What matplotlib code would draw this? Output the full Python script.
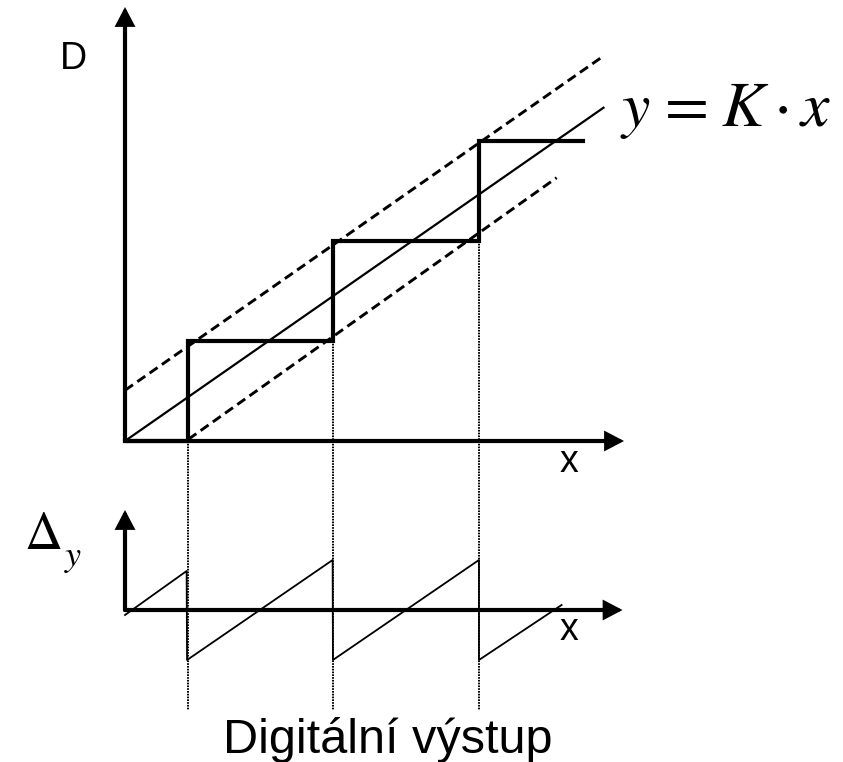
import matplotlib
matplotlib.use("Agg")
import matplotlib.pyplot as plt

plt.rcParams['lines.scale_dashes'] = False
plt.rcParams['mathtext.fontset'] = 'stix'

W, H = 843, 762
DPI = 100

# ---- data (diagram units: x step = 1 quantum, y step = 1 level) ----
step_x = [0.0, 0.434, 1.434, 2.441, 3.157]
step_y = [0, 1, 2, 3, 3]

line_x = [0.0, 3.30]
K = 1.01

upper_x = [0.0, 3.30]
upper_y = [0.507, 3.85]
lower_x = [0.437, 2.977]
lower_y = [0.017, 2.633]

thresholds = [0.434, 1.434, 2.441]
threshold_levels = [0, 1, 2]

saw_x = [0.0, 0.425, 0.428, 1.432, 1.434, 2.441, 2.441, 3.011]
saw_y = [-0.05, 0.39, -0.5, 0.5, -0.5, 0.5, -0.5, 0.05]

label_D = "D"
label_x = "x"
label_eq = r"$y\hspace{0.12}=\hspace{0.08}K\cdot x$"
label_delta = r"$\Delta$"
label_delta_sub = r"$y$"
label_bottom = "Digitální výstup"

# ---- layout (pixels) ----
ox, oy = 125, 441          # origin of upper diagram
ux, uy = 145, 100          # pixels per unit
top_tip = 7
right_tip = 624
oy2 = 610                  # origin of lower diagram
top_tip2 = 510
dot_bottom = 710

fig = plt.figure(figsize=(W / DPI, H / DPI), dpi=DPI)

def fx(px):
    return px / W

def fy(py):
    return (H - py) / H

# upper axes
x_max = (right_tip - ox) / ux
y_max = (oy - top_tip) / uy
ax = fig.add_axes([fx(ox), fy(oy), fx(right_tip) - fx(ox), fy(top_tip) - fy(oy)])
ax.set_xlim(0, x_max)
ax.set_ylim(0, y_max)
ax.axis('off')

# lower axes
y2_top = (oy2 - top_tip2) / uy
y2_bot = (oy2 - dot_bottom) / uy
ax2 = fig.add_axes([fx(ox), fy(dot_bottom), fx(right_tip) - fx(ox), fy(top_tip2) - fy(dot_bottom)])
ax2.set_xlim(0, x_max)
ax2.set_ylim(y2_bot, y2_top)
ax2.axis('off')

arrow_kw = dict(arrowstyle='-|>,head_length=0.8,head_width=0.42', lw=3, color='black',
                shrinkA=0, shrinkB=0, mutation_scale=12, joinstyle='miter')

def axis_arrow(a, x0, y0, x1, y1):
    a.annotate('', xy=(x1, y1), xytext=(x0, y0),
               arrowprops=arrow_kw, annotation_clip=False)

axis_arrow(ax, 0, 0, 0, y_max)
axis_arrow(ax, 0, 0, x_max, 0)
axis_arrow(ax2, 0, 0, 0, y2_top)
axis_arrow(ax2, 0, 0, x_max - 0.01, 0)

# dotted threshold lines
for tx, lv in zip(thresholds, threshold_levels):
    ax.plot([tx, tx], [lv, (oy - dot_bottom) / uy], color='black', lw=1.4,
            dashes=(1.2, 0.8), clip_on=False, zorder=1)

# ideal line
ax.plot(line_x, [K * v for v in line_x], color='black', lw=1.6, clip_on=False)
# tolerance dashed lines
ax.plot(upper_x, upper_y, color='black', lw=2.1, dashes=(7.0, 3.8), clip_on=False)
ax.plot(lower_x, lower_y, color='black', lw=2.1, dashes=(7.0, 3.8), clip_on=False)
# staircase
ax.plot(step_x, step_y, drawstyle='steps-post', color='black', lw=3,
        solid_joinstyle='miter', clip_on=False, zorder=3)

# sawtooth error
ax2.plot(saw_x, saw_y, color='black', lw=1.3, clip_on=False)

# texts
fig.text(fx(60), fy(69), label_D, fontsize=27, family='Liberation Sans',
         ha='left', va='baseline')
fig.text(fx(569), fy(472), label_x, fontsize=27, family='Liberation Sans',
         ha='center', va='baseline')
fig.text(fx(569), fy(640), label_x, fontsize=27, family='Liberation Sans',
         ha='center', va='baseline')
fig.text(fx(620), fy(126), label_eq, fontsize=46, ha='left', va='baseline')
fig.text(fx(24), fy(549), label_delta, fontsize=38, ha='left', va='baseline')
fig.text(fx(64), fy(566), label_delta_sub, fontsize=26, ha='left', va='baseline')
fig.text(fx(388), fy(753), label_bottom, fontsize=35, family='Liberation Sans',
         ha='center', va='baseline')

fig.savefig('out.png', dpi=DPI, facecolor='white')
